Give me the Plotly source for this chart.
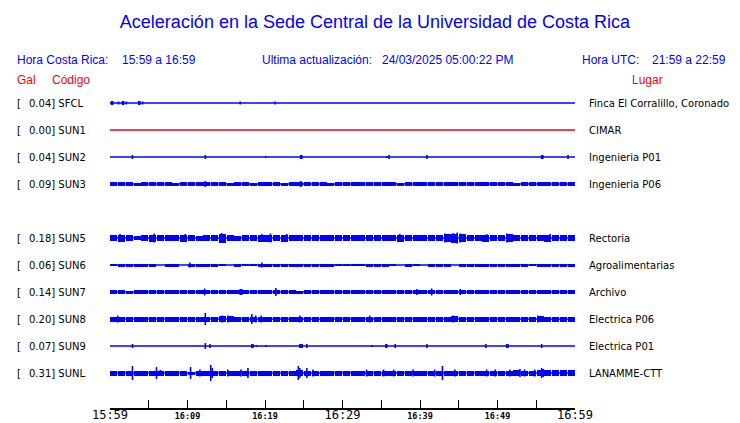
import plotly.graph_objects as go

# ---------------- data ----------------
title_text = "Aceleración en la Sede Central de la Universidad de Costa Rica"
hora_cr = "15:59 a 16:59"
hora_utc = "21:59 a 22:59"
ultima = "24/03/2025 05:00:22 PM"

tick_minutes = [0, 5, 10, 15, 20, 25, 30, 35, 40, 45, 50, 55, 60]
tick_labels = ["15:59", "", "16:09", "", "16:19", "", "16:29", "", "16:39", "", "16:49", "", "16:59"]
major_labels = ["15:59", "16:29", "16:59"]

stations = ["SFCL", "SUN1", "SUN2", "SUN3", "SUN5", "SUN6", "SUN7", "SUN8", "SUN9", "SUNL"]
row_slot = [0, 1, 2, 3, 5, 6, 7, 8, 9, 10]
gal = [0.04, 0.00, 0.04, 0.09, 0.18, 0.06, 0.14, 0.20, 0.07, 0.31]
places = ["Finca El Corralillo, Coronado", "CIMAR", "Ingenieria P01", "Ingenieria P06",
          "Rectoria", "Agroalimentarias", "Archivo", "Electrica P06", "Electrica P01", "LANAMME-CTT"]

# per-minute envelope half amplitude (display units, 1 unit = 1/27 row)
zero60 = [0] * 60
env_SFCL = zero60
env_SUN1 = zero60
env_SUN2 = zero60
env_SUN3 = [2, 2, 2, 1.5, 2, 2, 2, 2, 1.5, 2, 2, 2, 2, 2, 2, 1.5, 2, 2, 1.5, 2,
            2, 2, 1.5, 2, 2, 2, 2, 2, 1.5, 2, 2, 2, 2, 2, 2, 2, 2, 1.5, 2, 2,
            2, 2, 2, 2, 2, 2, 2, 2, 2, 2, 2, 2, 1.5, 2, 2, 2, 2, 2, 2, 2]
env_SUN5 = [3, 3.5, 3, 2, 3, 3.5, 3, 3, 3, 3.5, 3, 2.5, 3, 3, 4.5, 3, 2.5, 3, 3, 3.5,
            3.5, 3, 3.5, 3, 3, 3, 3, 3, 3, 3, 3, 3, 3, 3, 3, 3, 3, 3.5, 3, 3,
            3, 3, 3, 4, 4.5, 4, 3, 3, 3.5, 3, 3, 4, 3, 3, 3, 3, 3.5, 3, 3, 3]
env_SUN6 = [1, 1.5, 1.5, 1.5, 1.5, 1.5, 0, 1.5, 1.5, 0, 1.5, 1.5, 1.5, 1.5, 0.5, 0, 1.5, 1, 1, 1.5,
            1.5, 1.5, 1.5, 1.5, 1.5, 1.5, 1.5, 1.5, 1.5, 1, 0.5, 1, 0.5, 1.5, 1.5, 1.5, 0.5, 0, 1.5, 0.5,
            0, 1.5, 1.5, 1.5, 0, 1.5, 1.5, 1.5, 1.5, 1.5, 1.5, 1.5, 1.5, 1.5, 0.5, 1.5, 1.5, 1.5, 1.5, 1.5]
env_SUN7 = [2, 2, 1.5, 2, 2, 2, 2, 2, 2, 2, 2, 2, 2, 2, 2, 2, 2, 2, 2, 2,
            2, 2, 2, 2, 1.5, 2, 2, 2, 2, 2, 2, 2, 2, 2, 2, 2, 2, 2, 2, 2,
            2, 2, 2, 2, 2, 2, 2, 2, 2, 2, 2, 2, 2, 2, 2, 2, 2, 2, 2, 2]
env_SUN8 = [2.5, 2.5, 2.5, 2.5, 2.5, 2.5, 2.5, 2.5, 2.5, 2.5, 2.5, 2.5, 2.5, 2.5, 3, 3, 2.5, 2.5, 2.5, 2.5,
            2.5, 2.5, 2.5, 2.5, 2.5, 2.5, 2.5, 2.5, 2.5, 2.5, 2.5, 2.5, 2.5, 2.5, 2.5, 2.5, 2.5, 2.5, 2.5, 2.5,
            2.5, 2.5, 2.5, 2.5, 3, 2.5, 2.5, 2.5, 2.5, 2.5, 2.5, 2.5, 2.5, 2.5, 2.5, 3, 2.5, 2.5, 2.5, 2.5]
env_SUN9 = zero60
env_SUNL = [2.5, 2.5, 2.5, 2.5, 2.5, 2.5, 2.5, 2.5, 2.5, 2.5, 1.5, 2.5, 2.5, 2.5, 2.5, 2.5, 2.5, 2.5, 2.5, 2.5,
            2.5, 2.5, 2.5, 2.5, 3, 2.5, 2.5, 2.5, 2.5, 2.5, 2.5, 2.5, 2.5, 2.5, 2.5, 2.5, 2.5, 2.5, 2.5, 2.5,
            2.5, 2.5, 2.5, 2.5, 2.5, 2.5, 2.5, 2.5, 2.5, 2.5, 2.5, 2.5, 3, 2.5, 2.5, 3, 3, 3, 3, 3]

# spikes: (minute after 15:59, half amplitude)
spk_SFCL = [(0.2, 2), (0.35, 2), (1.1, 1.5), (1.6, 2), (1.75, 2), (2.1, 1.5), (3.7, 2), (3.85, 2),
            (4.2, 1.5), (16.8, 1.5), (21.3, 1.5)]
spk_SUN1 = []
spk_SUN2 = [(2.9, 2), (12.3, 2), (20.1, 1), (24.6, 2), (24.75, 2), (35.7, 1), (36.0, 2), (40.9, 2),
            (55.7, 2), (55.85, 2), (59.1, 2)]
spk_SUN3 = [(12.3, 3), (24.6, 3)]
spk_SUN5 = [(1.3, 4), (5.7, 4.5), (9.7, 4), (14.4, 5), (19.6, 4), (20.7, 4.5), (22.8, 4), (37.4, 4),
            (43.2, 4.5), (44.3, 5), (44.8, 5.5), (45.2, 4.5), (48.6, 4), (51.2, 4.5), (56.8, 4)]
spk_SUN6 = [(10.3, 2.5), (19.6, 2.5)]
spk_SUN7 = [(12.2, 3.5), (16.8, 3), (17.0, 3), (21.4, 4), (39.6, 3), (41.5, 3.5), (45.2, 3)]
spk_SUN8 = [(1.0, 3.5), (12.3, 6), (14.5, 3.5), (15.2, 3.5), (18.3, 5), (18.8, 3.5), (19.5, 3.5),
            (24.5, 3.5), (33.5, 3.5), (44.3, 3.5), (55.2, 3.5)]
spk_SUN9 = [(2.9, 2), (12.3, 3), (12.9, 2), (18.3, 2), (18.45, 2), (18.9, 1), (20.1, 1), (24.5, 2),
            (24.65, 2), (24.8, 2), (25.4, 2), (33.8, 1), (35.6, 2), (35.7, 2), (36.8, 2), (40.9, 2),
            (48.5, 2), (51.2, 2), (51.35, 2), (55.7, 2)]
spk_SUNL = [(2.9, 7), (6.0, 6), (6.5, 3), (10.4, 6), (11.6, 3.5), (13.0, 8), (13.2, 5), (15.2, 3.5),
            (16.9, 3.5), (17.8, 5), (24.3, 7), (24.5, 5), (25.4, 5), (26.2, 3.5), (33.1, 3.5), (35.3, 3.5),
            (36.6, 3.5), (39.1, 3.5), (41.9, 3.5), (42.9, 7), (44.5, 3.5), (48.6, 3.5), (49.7, 3.5),
            (51.6, 3.5), (52.9, 4), (53.5, 3.5), (54.8, 3.5), (55.7, 5), (55.9, 4)]

envelopes = [env_SFCL, env_SUN1, env_SUN2, env_SUN3, env_SUN5, env_SUN6, env_SUN7, env_SUN8, env_SUN9, env_SUNL]
spikes = [spk_SFCL, spk_SUN1, spk_SUN2, spk_SUN3, spk_SUN5, spk_SUN6, spk_SUN7, spk_SUN8, spk_SUN9, spk_SUNL]

# ---------------- figure ----------------
W, H = 740, 423
ML, MR, MT, MB = 110, 165, 90, 15
PW, PH = W - ML - MR, H - MT - MB
UNIT = 27.0  # pixels per row
BLUE = "#0000ff"
RED = "#ff0000"

def px_x(px):
    return (px - ML) / PW

def px_y(py):
    return (H - MB - py) / PH

fig = go.Figure()
tmin, tmax = tick_minutes[0], tick_minutes[-1]

for i, st in enumerate(stations):
    yc = -row_slot[i]
    col = RED if gal[i] == 0 else BLUE
    fig.add_trace(go.Scatter(x=[tmin, tmax], y=[yc, yc], mode="lines",
                             line=dict(color=col, width=1.5), hoverinfo="skip", showlegend=False))
    env = envelopes[i]
    if any(v > 0 for v in env):
        fig.add_trace(go.Bar(x=[m + 0.5 for m in range(len(env))],
                             y=[2 * v / UNIT for v in env],
                             base=[yc - v / UNIT for v in env],
                             width=0.93, marker=dict(color=col, line=dict(width=0)),
                             hoverinfo="skip", showlegend=False))
    if spikes[i]:
        xs, ys = [], []
        for (m, a) in spikes[i]:
            xs += [m, m, None]
            ys += [yc - a / UNIT, yc + a / UNIT, None]
        fig.add_trace(go.Scatter(x=xs, y=ys, mode="lines", line=dict(color=col, width=1.6),
                                 hoverinfo="skip", showlegend=False))

ticktext = []
for t in tick_labels:
    if t == "":
        ticktext.append("")
    elif t in major_labels:
        ticktext.append(t)
    else:
        ticktext.append('<span style="font-size:8.5px"><b>%s</b></span>' % t)

ymax = 13 / UNIT
ymin = ymax - PH / UNIT

fig.update_layout(
    width=W, height=H, margin=dict(l=ML, r=MR, t=MT, b=MB),
    paper_bgcolor="white", plot_bgcolor="white",
    barmode="overlay", bargap=0,
    xaxis=dict(range=[tmin, tmax], tickvals=tick_minutes, ticktext=ticktext,
               showline=True, linecolor="#000000", linewidth=1.5, ticks="inside", ticklen=8,
               tickcolor="#000000", tickwidth=1, showgrid=False, zeroline=False,
               tickfont=dict(family="DejaVu Sans Mono", size=12, color="black"),
               ticklabelstandoff=-5, layer="above traces",
               automargin=False, fixedrange=True),
    yaxis=dict(range=[ymin, ymax], visible=False, fixedrange=True),
    title=dict(text=title_text, x=375 / W, xanchor="center", y=1 - 22 / H, yanchor="middle",
               font=dict(family="Liberation Sans", size=18, color=BLUE)),
    showlegend=False,
)

HEAD = dict(family="Liberation Sans", size=12)

def note(text, px, py, color, font=HEAD, xanchor="left"):
    fig.add_annotation(text=text, x=px_x(px), y=px_y(py), xref="paper", yref="paper",
                       xanchor=xanchor, yanchor="middle", showarrow=False,
                       font=dict(color=color, **font))

note("Hora Costa Rica:", 15, 60, BLUE)
note(hora_cr, 120, 60, BLUE)
note("Ultima actualización:", 260, 60, BLUE)
note(ultima, 380, 60, BLUE)
note("Hora UTC:", 580, 60, BLUE)
note(hora_utc, 650, 60, BLUE)
note("Gal", 15, 80, RED)
note("Código", 50, 80, RED)
note("Lugar", 630, 80, RED)

LAB = dict(family="DejaVu Sans", size=10)
for i, st in enumerate(stations):
    yc = -row_slot[i]
    fig.add_annotation(text="[", x=px_x(15), y=yc, xref="paper", yref="y", xanchor="left",
                       yanchor="middle", showarrow=False, font=dict(color="black", **LAB))
    fig.add_annotation(text="%.2f] %s" % (gal[i], st), x=px_x(27), y=yc, xref="paper", yref="y",
                       xanchor="left", yanchor="middle", showarrow=False, font=dict(color="black", **LAB))
    fig.add_annotation(text=places[i], x=px_x(587), y=yc, xref="paper", yref="y", xanchor="left",
                       yanchor="middle", showarrow=False, font=dict(color="black", **LAB))

fig.write_html("out.html", config={"displayModeBar": False},
               post_script="document.body.style.margin='0';")
